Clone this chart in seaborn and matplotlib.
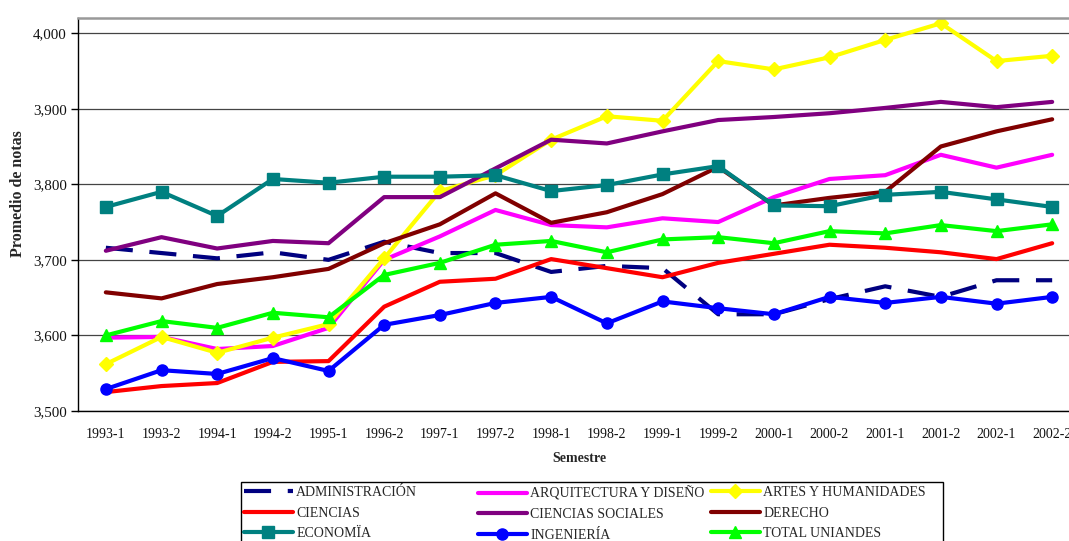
import numpy as np
import pandas as pd
import seaborn as sns
import matplotlib
matplotlib.use("Agg")
import matplotlib.pyplot as plt
from matplotlib.patches import Rectangle
from matplotlib.ticker import FuncFormatter

semestres = ["1993-1", "1993-2", "1994-1", "1994-2", "1995-1", "1996-2", "1997-1",
             "1997-2", "1998-1", "1998-2", "1999-1", "1999-2", "2000-1", "2000-2",
             "2001-1", "2001-2", "2002-1", "2002-2"]

administracion = [3716, 3709, 3702, 3710, 3700, 3724, 3709, 3709, 3684, 3692, 3689, 3628,
                  3628, 3648, 3665, 3651, 3673, 3673]
arquitectura = [3597, 3598, 3582, 3586, 3610, 3700, 3731, 3766, 3746, 3743, 3755, 3750,
                3783, 3807, 3812, 3839, 3822, 3839]
artes = [3562, 3598, 3577, 3597, 3615, 3702, 3791, 3812, 3859, 3890, 3884, 3963,
         3952, 3968, 3991, 4013, 3963, 3970]
ciencias = [3525, 3533, 3537, 3565, 3566, 3638, 3671, 3675, 3701, 3689, 3677, 3696,
            3708, 3720, 3716, 3710, 3701, 3722]
ciencias_sociales = [3712, 3730, 3715, 3725, 3722, 3783, 3783, 3821, 3859, 3854, 3870, 3885,
                     3889, 3894, 3901, 3909, 3902, 3909]
derecho = [3657, 3649, 3668, 3677, 3688, 3722, 3747, 3788, 3749, 3763, 3787, 3823,
           3772, 3782, 3790, 3850, 3870, 3886]
economia = [3770, 3790, 3758, 3807, 3802, 3810, 3810, 3812, 3791, 3799, 3813, 3824,
            3772, 3771, 3786, 3790, 3780, 3770]
ingenieria = [3529, 3554, 3549, 3570, 3553, 3614, 3627, 3643, 3651, 3616, 3645, 3636,
              3628, 3651, 3643, 3651, 3642, 3651]
total = [3600, 3619, 3610, 3630, 3624, 3680, 3696, 3720, 3725, 3710, 3727, 3730,
         3722, 3738, 3735, 3746, 3738, 3747]

series_names = ["ADMINISTRACIÓN", "ARQUITECTURA Y DISEÑO", "ARTES Y HUMANIDADES",
                "CIENCIAS", "CIENCIAS SOCIALES", "DERECHO", "ECONOMÏA", "INGENIERÍA",
                "TOTAL UNIANDES"]
series_values = [administracion, arquitectura, artes, ciencias, ciencias_sociales,
                 derecho, economia, ingenieria, total]
colors = ["#000080", "#FF00FF", "#FFFF00", "#FF0000", "#800080", "#800000",
          "#008080", "#0000FF", "#00FF00"]
markers = [None, None, "D", None, None, None, "s", "o", "^"]
msizes = [0, 0, 7, 0, 0, 0, 8, 8, 9]

sns.set_style("white")
plt.rcParams["font.family"] = ["Liberation Serif", "DejaVu Serif"]

W, H = 1069, 541
fig = plt.figure(figsize=(W / 100, H / 100), dpi=100)
ax = fig.add_axes([78 / W, 1 - 411 / H, (1080 - 78) / W, (411 - 18) / H])

for name, vals, col, mk, ms in zip(series_names, series_values, colors, markers, msizes):
    df = pd.DataFrame({"Semestre": semestres, "Promedio": vals})
    kw = dict(color=col, linewidth=3, label=name, sort=False, ax=ax)
    if mk is not None:
        kw.update(marker=mk, markersize=ms, markeredgecolor=col, markerfacecolor=col,
                  markeredgewidth=1)
    line_ax = sns.lineplot(data=df, x="Semestre", y="Promedio", **kw)
    if name == "ADMINISTRACIÓN":
        line_ax.get_lines()[-1].set_dashes((6.5, 4))

ax.set_xlim(-0.5, len(semestres) - 0.5)
ax.set_ylim(3500, 4020)
ax.set_yticks([3500, 3600, 3700, 3800, 3900, 4000])
ax.yaxis.set_major_formatter(FuncFormatter(lambda v, p: f"{int(v):,}"))
ax.grid(axis="y", color="#444444", linewidth=0.9)
ax.grid(axis="x", visible=False)
ax.set_axisbelow(True)

ax.set_xticks(range(len(semestres)))
ax.set_xticklabels(semestres)
ax.set_xticks(np.arange(-0.5, len(semestres), 1), minor=True)
ax.tick_params(axis="x", which="major", length=0, pad=12, labelsize=10, colors="#111111")
ax.tick_params(axis="x", which="minor", length=5, width=1, color="black", direction="out")
ax.tick_params(axis="y", which="major", left=True, length=5, width=1, color="black",
               direction="out", pad=3, labelsize=10.8, labelcolor="#111111")

for s in ["left", "bottom"]:
    ax.spines[s].set_color("black")
    ax.spines[s].set_linewidth(1)
ax.spines["top"].set_color("#999999")
ax.spines["top"].set_linewidth(1.8)
ax.spines["right"].set_visible(False)

ax.set_xlabel("Semestre", fontsize=10, fontweight="bold", labelpad=8)
ax.set_ylabel("Promedio de notas", fontsize=11.5, fontweight="bold")
ax.yaxis.set_label_coords(-52 / (1080 - 78), (411 - 194) / (411 - 18))

handles, labels = ax.get_legend_handles_labels()
if ax.get_legend() is not None:
    ax.get_legend().remove()

col_x = [244, 478, 711]
for c in range(3):
    hs = [handles[3 * r + c] for r in range(3)]
    ls = [labels[3 * r + c] for r in range(3)]
    fig.legend(hs, ls, loc="upper left", bbox_to_anchor=(col_x[c] / W, 1 - 486 / H),
               frameon=False, borderpad=0, borderaxespad=0, handlelength=3.5,
               handletextpad=0.25, labelspacing=0.55, prop={"size": 10})

fig.patches.append(Rectangle((241 / W, 1 - 546 / H), (943 - 241) / W, (546 - 481.7) / H,
                             transform=fig.transFigure, fill=False, edgecolor="black",
                             linewidth=1))

fig.savefig("out.png", dpi=100)
